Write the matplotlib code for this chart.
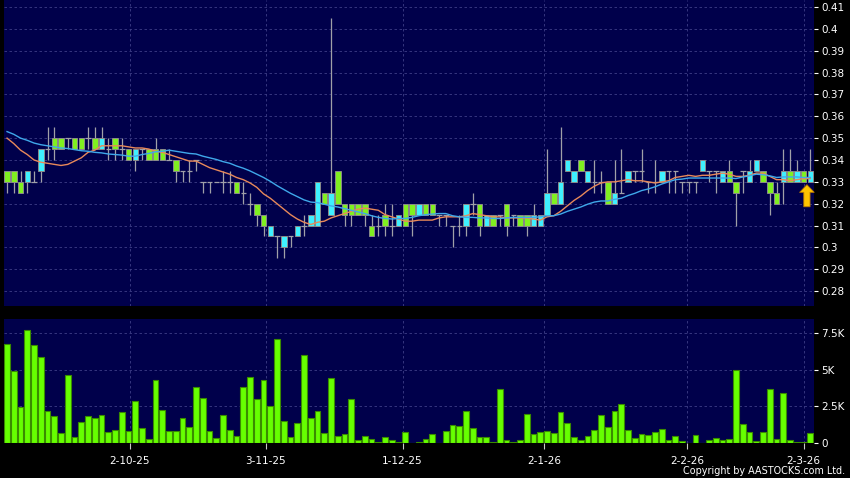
import numpy as np
import pandas as pd
import matplotlib
matplotlib.use("Agg")
import matplotlib.pyplot as plt

# daily candles, 120 sessions (left to right)
opens = [0.335, 0.335, 0.33, 0.33, 0.33, 0.335, 0.345, 0.35, 0.35, 0.35,
         0.35, 0.35, 0.35, 0.35, 0.345, 0.345, 0.35, 0.345, 0.345, 0.34,
         0.345, 0.345, 0.345, 0.345, 0.34, 0.34, 0.335, 0.335, 0.34, 0.33,
         0.33, 0.33, 0.33, 0.33, 0.33, 0.325, 0.32, 0.32, 0.315, 0.305,
         0.305, 0.30, 0.305, 0.305, 0.31, 0.31, 0.31, 0.325, 0.315, 0.335,
         0.32, 0.32, 0.32, 0.32, 0.31, 0.31, 0.315, 0.31, 0.31, 0.32,
         0.32, 0.315, 0.32, 0.32, 0.315, 0.315, 0.31, 0.31, 0.31, 0.32,
         0.32, 0.31, 0.315, 0.315, 0.32, 0.315, 0.315, 0.315, 0.31, 0.31,
         0.315, 0.325, 0.32, 0.335, 0.33, 0.34, 0.33, 0.33, 0.33, 0.33,
         0.32, 0.325, 0.33, 0.335, 0.335, 0.33, 0.33, 0.33, 0.335, 0.335,
         0.33, 0.33, 0.33, 0.335, 0.335, 0.335, 0.33, 0.335, 0.33, 0.335,
         0.33, 0.335, 0.335, 0.33, 0.325, 0.33, 0.335, 0.33, 0.335, 0.33]
highs = [0.335, 0.335, 0.335, 0.335, 0.335, 0.345, 0.355, 0.355, 0.35, 0.35,
         0.35, 0.35, 0.355, 0.355, 0.355, 0.35, 0.35, 0.35, 0.345, 0.345,
         0.345, 0.345, 0.35, 0.345, 0.345, 0.34, 0.335, 0.34, 0.34, 0.33,
         0.33, 0.33, 0.335, 0.335, 0.33, 0.33, 0.325, 0.32, 0.315, 0.31,
         0.305, 0.305, 0.305, 0.31, 0.315, 0.315, 0.33, 0.325, 0.405, 0.335,
         0.32, 0.32, 0.32, 0.32, 0.315, 0.315, 0.32, 0.32, 0.315, 0.32,
         0.32, 0.32, 0.32, 0.32, 0.315, 0.315, 0.31, 0.315, 0.32, 0.325,
         0.32, 0.315, 0.315, 0.315, 0.32, 0.315, 0.315, 0.315, 0.32, 0.315,
         0.345, 0.325, 0.355, 0.34, 0.335, 0.34, 0.335, 0.34, 0.335, 0.33,
         0.34, 0.345, 0.335, 0.335, 0.345, 0.33, 0.34, 0.335, 0.335, 0.335,
         0.33, 0.33, 0.33, 0.34, 0.335, 0.335, 0.335, 0.34, 0.33, 0.335,
         0.34, 0.34, 0.335, 0.33, 0.33, 0.345, 0.345, 0.34, 0.335, 0.345]
lows = [0.325, 0.325, 0.325, 0.325, 0.33, 0.33, 0.34, 0.34, 0.345, 0.345,
        0.345, 0.345, 0.345, 0.345, 0.345, 0.34, 0.34, 0.34, 0.34, 0.335,
        0.34, 0.34, 0.34, 0.34, 0.34, 0.33, 0.33, 0.33, 0.335, 0.325,
        0.325, 0.33, 0.325, 0.325, 0.325, 0.32, 0.315, 0.31, 0.305, 0.305,
        0.295, 0.295, 0.30, 0.305, 0.305, 0.31, 0.31, 0.32, 0.315, 0.32,
        0.31, 0.31, 0.315, 0.31, 0.305, 0.305, 0.305, 0.305, 0.31, 0.31,
        0.305, 0.315, 0.315, 0.315, 0.31, 0.31, 0.30, 0.305, 0.305, 0.315,
        0.305, 0.31, 0.31, 0.31, 0.305, 0.31, 0.31, 0.305, 0.31, 0.31,
        0.315, 0.32, 0.32, 0.335, 0.33, 0.335, 0.33, 0.325, 0.325, 0.32,
        0.32, 0.325, 0.33, 0.33, 0.33, 0.325, 0.325, 0.33, 0.325, 0.325,
        0.325, 0.325, 0.325, 0.335, 0.33, 0.325, 0.33, 0.33, 0.31, 0.325,
        0.33, 0.335, 0.33, 0.315, 0.32, 0.32, 0.33, 0.33, 0.33, 0.33]
closes = [0.33, 0.33, 0.325, 0.335, 0.33, 0.345, 0.345, 0.345, 0.345, 0.35,
          0.345, 0.345, 0.35, 0.345, 0.35, 0.345, 0.345, 0.345, 0.34, 0.345,
          0.345, 0.34, 0.34, 0.34, 0.34, 0.335, 0.335, 0.335, 0.34, 0.33,
          0.33, 0.33, 0.33, 0.33, 0.325, 0.325, 0.32, 0.315, 0.31, 0.31,
          0.305, 0.305, 0.305, 0.31, 0.31, 0.315, 0.33, 0.32, 0.325, 0.32,
          0.315, 0.315, 0.315, 0.315, 0.305, 0.31, 0.31, 0.31, 0.315, 0.31,
          0.315, 0.32, 0.315, 0.315, 0.315, 0.315, 0.31, 0.31, 0.32, 0.32,
          0.31, 0.315, 0.31, 0.315, 0.31, 0.315, 0.31, 0.31, 0.315, 0.315,
          0.325, 0.32, 0.33, 0.34, 0.335, 0.335, 0.335, 0.33, 0.33, 0.32,
          0.325, 0.325, 0.335, 0.335, 0.335, 0.33, 0.33, 0.335, 0.335, 0.335,
          0.33, 0.33, 0.33, 0.34, 0.335, 0.335, 0.335, 0.33, 0.325, 0.335,
          0.335, 0.34, 0.33, 0.325, 0.32, 0.335, 0.33, 0.335, 0.33, 0.335]
# closes before the visible window, only used to seed the moving averages
prior_closes = [0.355, 0.36, 0.355, 0.355, 0.36, 0.355, 0.355, 0.355, 0.355, 0.355,
                0.355, 0.355, 0.355, 0.355, 0.355, 0.35, 0.35, 0.35, 0.345]
# volume in thousands of shares
volume_k = [6.75, 4.93, 2.43, 7.68, 6.7, 5.84, 2.2, 1.86, 0.68, 4.61,
            0.43, 1.45, 1.84, 1.75, 1.95, 0.75, 0.91, 2.14, 0.86, 2.89,
            1.02, 0.3, 4.3, 2.23, 0.84, 0.84, 1.75, 1.11, 3.8, 3.05,
            0.84, 0.34, 1.9, 0.91, 0.5, 3.84, 4.5, 3.02, 4.32, 2.55,
            7.11, 1.52, 0.41, 1.39, 6.0, 1.7, 2.18, 0.68, 4.43, 0.5,
            0.61, 3.0, 0.2, 0.5, 0.27, 0.09, 0.43, 0.2, 0.07, 0.77,
            0.02, 0.11, 0.3, 0.64, 0.05, 0.82, 1.25, 1.18, 2.18, 1.07,
            0.41, 0.41, 0.07, 3.7, 0.23, 0.07, 0.23, 2.02, 0.66, 0.77,
            0.84, 0.7, 2.11, 1.41, 0.43, 0.23, 0.52, 0.89, 1.93, 1.14,
            2.18, 2.64, 0.93, 0.36, 0.64, 0.59, 0.8, 0.98, 0.23, 0.48,
            0.14, 0.02, 0.57, 0.02, 0.25, 0.39, 0.2, 0.27, 4.95, 1.3,
            0.77, 0.14, 0.8, 3.7, 0.3, 3.41, 0.23, 0.07, 0.07, 0.68]

date_labels = ["2-10-25", "3-11-25", "1-12-25", "2-1-26", "2-2-26", "2-3-26"]
date_pos = [18.2, 38.3, 58.6, 79.6, 100.8, 118.0]
price_ticks = [0.28, 0.29, 0.30, 0.31, 0.32, 0.33, 0.34, 0.35, 0.36, 0.37, 0.38, 0.39, 0.40, 0.41]
vol_ticks = [0, 2.5, 5, 7.5]
vol_tick_labels = ["0", "2.5K", "5K", "7.5K"]

BG = "#00004b"
UP = "#3ff0ff"
DOWN = "#80f020"
WICK = "#a0a0a8"
GRID = "#3e3e86"

o = np.array(opens); h = np.array(highs); l = np.array(lows); c = np.array(closes)
x = np.arange(len(c))
allc = pd.Series(prior_closes + closes)
ma10 = allc.rolling(10).mean().values[len(prior_closes):]
ma20 = allc.rolling(20).mean().values[len(prior_closes):]

fig = plt.figure(figsize=(8.5, 4.78), dpi=100, facecolor="black")
ax = fig.add_axes([4 / 850, 1 - 306 / 478, 810 / 850, 306 / 478])
axv = fig.add_axes([4 / 850, 1 - 443.3 / 478, 810 / 850, 124.8 / 478], sharex=ax)

for a in (ax, axv):
    a.set_facecolor(BG)
    for s in a.spines.values():
        s.set_visible(False)
    a.yaxis.tick_right()
    a.tick_params(axis="y", colors="white", labelcolor="white", labelsize=7.5,
                  length=3, width=0.8, pad=2)
    a.set_xticks(date_pos)
    a.grid(True, color=GRID, linestyle=(0, (3, 3)), linewidth=0.6)
    a.set_axisbelow(True)

ax.set_xlim(-0.45, len(c) - 0.45)
ax.set_ylim(0.2732, 0.4132)
ax.set_yticks(price_ticks)
ax.set_yticklabels(["{:g}".format(round(v, 2)) for v in price_ticks])
ax.tick_params(axis="x", length=0, labelbottom=False)

# wicks
ax.vlines(x, l, h, color=WICK, linewidth=0.9, zorder=2)
# bodies
bw = 0.82
up = c > o
dn = c < o
ax.bar(x[up], (c - o)[up], bottom=o[up], width=bw, color=UP, edgecolor="#8a8a8a",
       linewidth=0.7, zorder=3)
ax.bar(x[dn], (o - c)[dn], bottom=c[dn], width=bw, color=DOWN, edgecolor="#8a8a8a",
       linewidth=0.7, zorder=3)
doji = c == o
ax.hlines(c[doji], x[doji] - bw / 2, x[doji] + bw / 2, color=WICK, linewidth=0.9, zorder=3)

ax.plot(x, ma10, color="#e8895a", linewidth=1.0, zorder=4)
ax.plot(x, ma20, color="#3fa8ea", linewidth=1.0, zorder=4)

# marker arrow under the last session
ax.annotate("", xy=(x[-1] - 0.5, 0.3287), xytext=(x[-1] - 0.5, 0.3186),
            arrowprops=dict(facecolor="#ffc400", edgecolor="#b87800", linewidth=0.6,
                            width=4.5, headwidth=10.5, headlength=5.5), zorder=5)

axv.bar(x, volume_k, width=0.85, color="#66ff00", edgecolor="#3a8c00", linewidth=0.8, zorder=3)
axv.set_ylim(0, 8.47)
axv.set_yticks(vol_ticks)
axv.set_yticklabels(vol_tick_labels)
axv.set_xticklabels(date_labels)
axv.tick_params(axis="x", colors="#c8c8c8", labelcolor="white", labelsize=7.5,
                length=4, width=0.8, pad=5)

fig.text(845 / 850, 1 - 471 / 478, "Copyright by AASTOCKS.com Ltd.", color="white",
         fontsize=6.9, ha="right", va="center")

fig.savefig("out.png", dpi=100, facecolor="black")
